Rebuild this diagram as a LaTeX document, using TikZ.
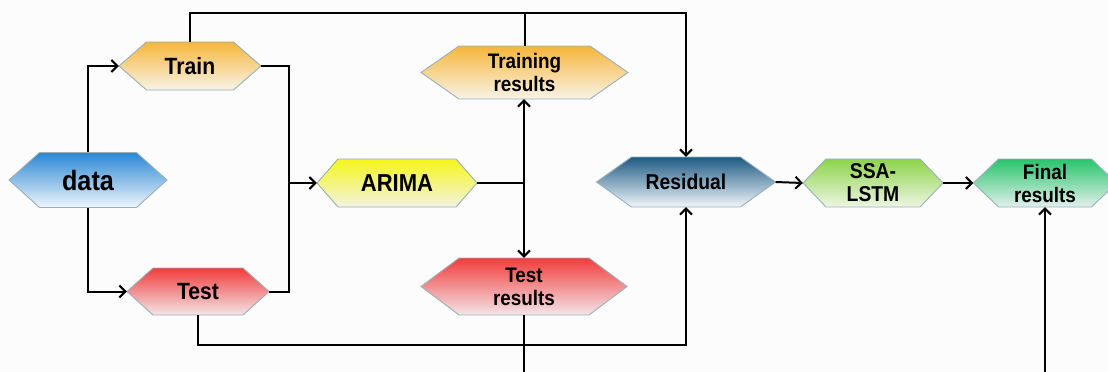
\documentclass[tikz,border=0pt]{standalone}
\usepackage{fontspec}
\setmainfont{Liberation Sans}[FakeStretch=0.9]
\usetikzlibrary{arrows.meta}
\definecolor{hexborder}{HTML}{9AB0B8}
\definecolor{bgc}{HTML}{FCFCFC}
\definecolor{dataT}{HTML}{2A86D4}\definecolor{dataB}{HTML}{EEF6FB}
\definecolor{orT}{HTML}{F6B63A}\definecolor{orB}{HTML}{F8F3E8}
\definecolor{rdT}{HTML}{F23C3C}\definecolor{rdB}{HTML}{F3E6E8}
\definecolor{ylT}{HTML}{F5F51A}\definecolor{ylB}{HTML}{F3F3E2}
\definecolor{rsT}{HTML}{1E5A84}\definecolor{rsB}{HTML}{F0F6FA}
\definecolor{lgT}{HTML}{8CD44A}\definecolor{lgB}{HTML}{EEF6E4}
\definecolor{fgT}{HTML}{28C46A}\definecolor{fgB}{HTML}{E2F0EE}
\tikzset{
  hexlbl/.style={inner sep=0pt, align=center},
  conn/.style={line width=2pt, black},
  arr/.style={conn, -{Straight Barb[length=6pt,width=12pt,line width=2pt]}},
}
% name, cx, cy, half width, half flat, half height, colour stem, font size, text
\newcommand\hexa[9]{%
  \draw[top color=#7T, bottom color=#7B, draw=hexborder, line width=0.9pt]
    (#2-#4,#3) -- (#2-#5,#3-#6) -- (#2+#5,#3-#6) -- (#2+#4,#3)
    -- (#2+#5,#3+#6) -- (#2-#5,#3+#6) -- cycle;
  \node[hexlbl, font=\bfseries\fontsize{#8}{23}\selectfont,
        minimum width=2*#4pt, minimum height=2*#6pt] (#1) at (#2,#3) {#9};}
\begin{document}
\begin{tikzpicture}[x=1pt,y=-1pt]
\useasboundingbox (0,0) rectangle (1108,372);
\fill[bgc] (0,0) rectangle (1108,372);
\clip (0,0) rectangle (1108,372);
\hexa{data}{88}{180}{79}{48.5}{27.5}{data}{28}{data}
\hexa{train}{190}{66}{71}{43.5}{24}{or}{23.5}{Train}
\hexa{test}{198}{291.5}{71}{45}{23.5}{rd}{23.5}{Test}
\hexa{arima}{397}{183}{80}{59}{24}{yl}{24.5}{ARIMA}
\hexa{trres}{524.5}{72.5}{103.5}{65.5}{26.5}{or}{21}{Training\\results}
\hexa{teres}{524}{286.5}{103}{65}{28.5}{rd}{21}{Test\\results}
\hexa{resid}{686}{182}{89.5}{54.5}{25}{rs}{21.5}{Residual}
\hexa{ssa}{873}{183}{70}{47}{24}{lg}{21.5}{SSA-\\LSTM}
\hexa{final}{1045}{183}{71.5}{46.5}{24}{fg}{21}{Final\\results}
\coordinate (jl) at (289,183);
\coordinate (jr) at (524,183);
\coordinate (topline) at (0,13);
\coordinate (botline) at (0,345);
\coordinate (trbot) at (524,372);
\coordinate (frbot) at (1045,372);
% data split
\draw[arr] (data.north) |- (train.west);
\draw[arr] (data.south) |- (test.west);
% train/test to ARIMA
\draw[conn] (train.east) -| (jl) |- (test.east);
\draw[arr] (jl) -- (arima.west);
% ARIMA outputs
\draw[conn] (arima.east) -- (jr);
\draw[arr] (jr) -- (jr |- trres.south);
\draw[arr] (jr) -- (jr |- teres.north);
% top line
\draw[arr] (train.north) -- (train.north |- topline) -| (resid.north);
\draw[conn] (trres.north) -- (trres.north |- topline);
% bottom line
\draw[arr] (test.south) -- (test.south |- botline) -| (resid.south);
\draw[conn] (teres.south) -- (trbot);
% right chain
\draw[arr] (resid.east) -- (ssa.west);
\draw[arr] (ssa.east) -- (final.west);
\draw[arr] (frbot) -- (final.south);
\end{tikzpicture}
\end{document}
